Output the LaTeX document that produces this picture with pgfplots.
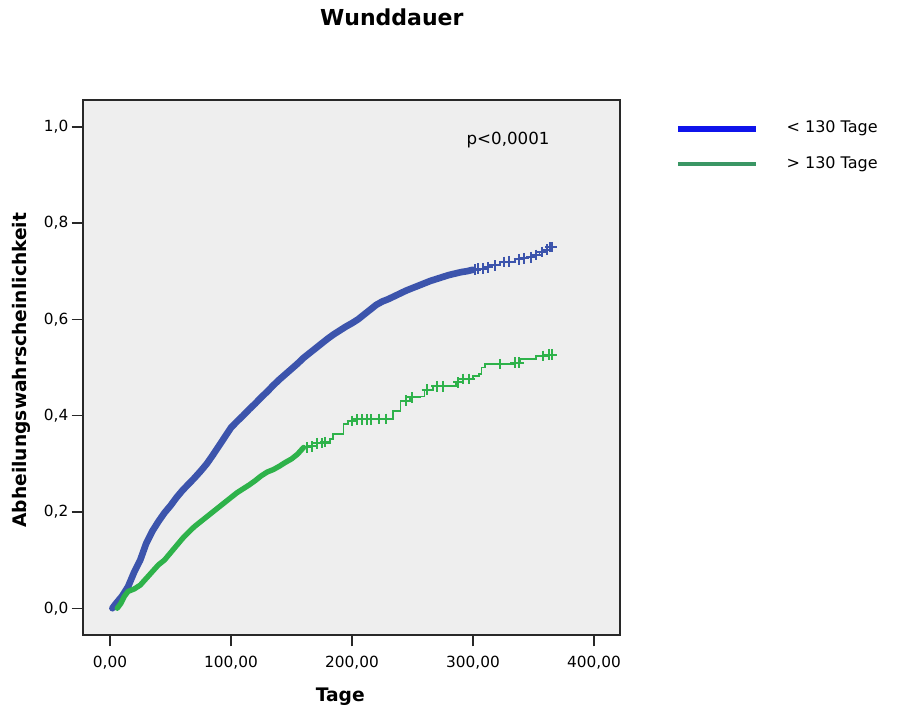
\documentclass[border=0pt]{standalone}
\usepackage{fontspec}
\setmainfont{DejaVu Sans}
\usepackage{pgfplots}
\pgfplotsset{compat=1.18}
\definecolor{kmblue}{RGB}{60,84,172}
\definecolor{kmgreen}{RGB}{46,178,74}
\definecolor{legblue}{RGB}{15,20,235}
\definecolor{leggreen}{RGB}{58,150,100}
\definecolor{plotbg}{RGB}{238,238,238}
\definecolor{frame}{RGB}{40,40,40}

\begin{document}
\begin{tikzpicture}
\path[use as bounding box] (0,0) rectangle (679.5pt,530.25pt);
\begin{axis}[
  at={(62.25pt,54pt)}, anchor=south west,
  scale only axis, width=402.75pt, height=401.25pt,
  xmin=-22.3, xmax=421.5, ymin=-0.0556, ymax=1.0556,
  xtick={0,100,200,300,400},
  ytick={0,0.2,0.4,0.6,0.8,1.0},
  tick pos=left, tick align=outside,
  major tick length=8.5pt,
  every tick/.style={frame, line width=1.1pt},
  axis line style={frame, line width=1.6pt},
  axis background/.style={fill=plotbg},
  /pgf/number format/assume math mode=true,
  xticklabel style={font=\fontsize{11.5}{13}\selectfont, yshift=-4pt,
    /pgf/number format/.cd, fixed, fixed zerofill, precision=2, use comma},
  yticklabel style={font=\fontsize{11.5}{13}\selectfont, xshift=1pt,
    /pgf/number format/.cd, fixed, fixed zerofill, precision=1, use comma},
  xlabel={Tage},
  ylabel={Abheilungswahrscheinlichkeit},
  label style={font=\fontsize{14}{16}\selectfont\bfseries},
  xlabel style={at={(axis description cs:0.479,-0.115)}, anchor=center},
  ylabel style={at={(axis description cs:-0.114,0.495)}, anchor=center},
  title={Wunddauer},
  title style={at={(axis description cs:0.575,1.14)}, anchor=center,
    font=\fontsize{16.5}{18}\selectfont\bfseries},
  legend style={draw=none, fill=none, at={(axis description cs:1.1024,0.968)},
    anchor=north west, inner sep=0pt, row sep=9pt, column sep=18pt,
    font=\fontsize{12}{14}\selectfont,
    nodes={inner sep=3pt, text height=8.5pt, text depth=3pt}},
  legend cell align=left,
  clip=false,
]
\addlegendimage{legend image code/.code={\draw[legblue, line width=4.5pt] (0pt,0pt) -- (58pt,0pt);}}
\addlegendentry{< 130 Tage}
\addlegendimage{legend image code/.code={\draw[leggreen, line width=3pt] (0pt,0pt) -- (58pt,0pt);}}
\addlegendentry{> 130 Tage}

% <130 Tage: dichter Teil
\addplot[kmblue, line width=5pt, line join=round, line cap=round] coordinates {
(2,0) (5,0.01) (10,0.025) (15,0.045) (20,0.075) (25,0.10) (30,0.135) (35,0.16)
(40,0.18) (45,0.198) (50,0.213) (55,0.23) (60,0.245) (65,0.258) (70,0.271)
(75,0.285) (80,0.30) (85,0.318) (90,0.337) (95,0.356) (100,0.375) (105,0.388)
(110,0.40) (115,0.413) (120,0.425) (125,0.438) (130,0.45) (135,0.463) (140,0.475)
(145,0.486) (150,0.497) (155,0.508) (160,0.52) (165,0.53) (170,0.54)
(175,0.55) (180,0.56) (185,0.569) (190,0.577) (195,0.585) (200,0.592)
(205,0.60) (210,0.61) (215,0.62) (220,0.63) (225,0.637) (230,0.642)
(235,0.648) (240,0.654) (245,0.66) (250,0.665) (255,0.67) (260,0.675)
(265,0.68) (270,0.684) (275,0.688) (280,0.692) (285,0.695) (290,0.698)
(295,0.70) (300,0.703)
};
% <130 Tage: Ende
\addplot[kmblue, line width=1.4pt, const plot] coordinates {
(300,0.703) (305,0.705) (310,0.708) (315,0.712) (322,0.719) (328,0.72)
(335,0.725) (340,0.727) (345,0.729) (350,0.734) (355,0.74) (360,0.745) (365,0.75)
};
\addplot[kmblue, only marks, mark=+, mark size=4pt, line width=1.5pt] coordinates {
(302,0.703) (304,0.705) (308,0.705) (312,0.708) (318,0.712) (326,0.719) (330,0.72)
(338,0.725) (342,0.727) (348,0.729) (352,0.734) (357,0.74) (361,0.745)
(364,0.75) (365,0.75)
};

% >130 Tage: dichter Teil
\addplot[kmgreen, line width=4pt, line join=round, line cap=round] coordinates {
(6,0) (9,0.01) (12,0.025) (15,0.035) (20,0.04) (25,0.048) (30,0.062) (35,0.076)
(40,0.09) (45,0.10) (50,0.115) (55,0.13) (60,0.145) (65,0.158) (70,0.17)
(75,0.18) (80,0.19) (85,0.20) (90,0.21) (95,0.22) (100,0.23) (105,0.24)
(110,0.248) (115,0.256) (120,0.265) (125,0.275) (130,0.283) (135,0.288)
(140,0.295) (145,0.303) (150,0.31) (155,0.32) (160,0.334)
};
% >130 Tage: Stufen
\addplot[kmgreen, line width=1.3pt, const plot] coordinates {
(160,0.334) (165,0.336) (171,0.3425) (182,0.351) (184.5,0.362) (193,0.383)
(197,0.389) (204,0.392) (220,0.393) (234,0.41) (240,0.431) (248,0.438)
(256,0.44) (260,0.454) (267,0.461) (286,0.469) (292,0.476) (300,0.483)
(305,0.486) (307,0.50) (310,0.507) (333,0.51) (339,0.517) (352,0.524)
(360,0.527) (365,0.527)
};
\addplot[kmgreen, only marks, mark=+, mark size=4pt, line width=1.5pt] coordinates {
(163,0.334) (167,0.336) (171,0.3425) (175,0.343) (178,0.345) (200,0.389)
(204,0.392) (208,0.392) (212,0.392) (216,0.392) (222,0.393) (228,0.393)
(245,0.431) (250,0.438) (262,0.454) (270,0.461) (275,0.461) (288,0.469)
(292,0.476) (297,0.476) (322,0.507) (335,0.51) (338,0.51) (358,0.524)
(363,0.527) (365,0.527)
};

\node[font=\fontsize{12.5}{14}\selectfont] at (axis cs:329,0.973) {p<0,0001};
\end{axis}
\end{tikzpicture}
\end{document}
